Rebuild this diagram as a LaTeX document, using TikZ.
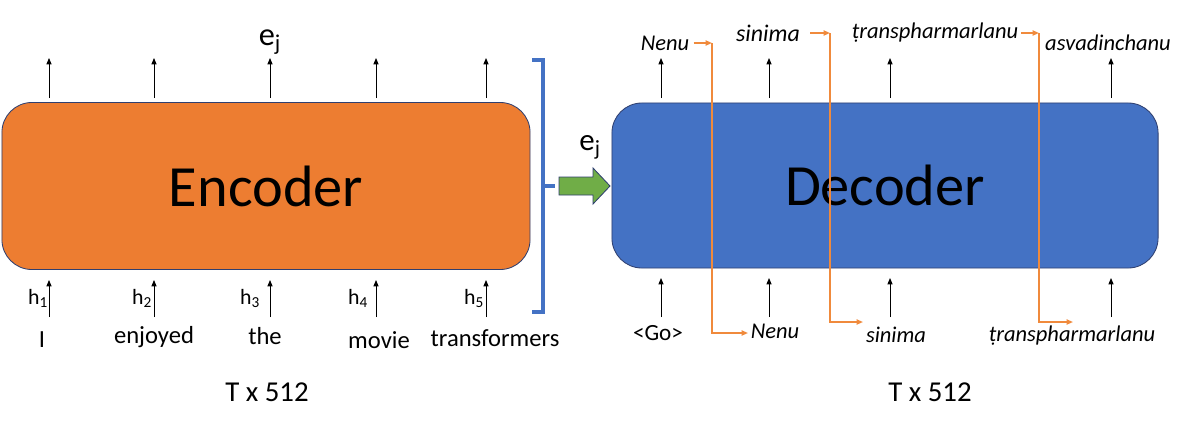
\documentclass[tikz,border=0pt]{standalone}
\usepackage{fontspec}
\setmainfont{Carlito}
\usetikzlibrary{arrows.meta}

\definecolor{encorange}{HTML}{ED7D31}
\definecolor{decblue}{HTML}{4472C4}
\definecolor{boxline}{HTML}{2F3F6F}
\definecolor{passgreen}{HTML}{70AD47}
\definecolor{copyorange}{HTML}{F08A3C}

\begin{document}
\begin{tikzpicture}[x=0.025cm,y=-0.025cm,
   block/.style={draw=boxline,line width=0.6pt,rounded corners=0.75cm,
      font=\fontsize{41.5pt}{48pt}\selectfont},
   up/.style={-{Triangle[length=4.5pt,width=3.6pt]},line width=0.6pt},
   copyarrow/.style={-{Triangle[length=4.5pt,width=3.6pt]},draw=copyorange,line width=1.1pt},
   word/.style={inner sep=1pt,font=\fontsize{17.5pt}{20pt}\selectfont},
   target/.style={inner sep=1pt,font=\fontsize{16pt}{19pt}\selectfont\itshape},
   hlabel/.style={inner sep=0pt,font=\fontsize{15.5pt}{18pt}\selectfont},
   size/.style={font=\fontsize{20.5pt}{24pt}\selectfont},
   bracket/.style={draw=decblue,line width=2.8pt}]

\useasboundingbox (0,0) rectangle (1200,428);

% encoder and decoder blocks
\node (enc) [block,fill=encorange,minimum width=13.2cm,minimum height=4.175cm] at (266,186) {Encoder};
\node (dec) [block,fill=decblue,minimum width=13.65cm,minimum height=4.125cm] at (885,185.5) {Decoder};

% encoder inputs and outputs
\node (ej) [inner sep=0pt,font=\fontsize{23pt}{26pt}\selectfont] at (270,42) {e\textsubscript{j}};
\foreach \x/\h/\w/\wx/\wy [count=\i] in {49/38/I/42/340,154/142/enjoyed/154/337,270/250/the/265/336,376/358/movie/379/340,486/474/transformers/495/338} {
  \coordinate (eout\i) at (\x,98);
  \coordinate (etop\i) at (\x,58);
  \draw[up] (eout\i) -- (etop\i);
  \coordinate (ein\i) at (\x,317);
  \coordinate (ebot\i) at (\x,280);
  \draw[up] (ein\i) -- (ebot\i);
  \node (h\i) [hlabel] at (\h,298) {h\textsubscript{\i}};
  \node (w\i) [word] at (\wx,\wy) {\w};
}

% context passed to the decoder
\draw[bracket] (532,60) -- (543,60) -- (543,312) -- (532,312);
\draw[bracket] (543,186) -- (555,186);
\node (ctx) [inner sep=0pt,font=\fontsize{22pt}{26pt}\selectfont] at (590,147) {e\textsubscript{j}};
\draw[draw=boxline,line width=0.6pt,fill=passgreen]
   (559,177) -- (593,177) -- (593,168) -- (610,186) -- (593,204) -- (593,195) -- (559,195) -- cycle;

% decoder inputs and outputs
\foreach \x [count=\i] in {661,769,890,1111} {
  \coordinate (dout\i) at (\x,98);
  \coordinate (dtop\i) at (\x,58);
  \draw[up] (dout\i) -- (dtop\i);
  \coordinate (din\i) at (\x,317);
  \coordinate (dbot\i) at (\x,278);
  \draw[up] (din\i) -- (dbot\i);
}
\node (nenuT) [target] at (665,43) {Nenu};
\node (sinimaT) [target,font=\fontsize{17pt}{20pt}\selectfont\itshape] at (768,33) {sinima};
\node (tranT) [target] at (935,33) {ṭranspharmarlanu};
\node (asvT) [target] at (1108,43) {asvadinchanu};

\node (go) [word,font=\fontsize{16.5pt}{19pt}\selectfont] at (658,333) {<Go>};
\node (nenuB) [target] at (775,331) {Nenu};
\node (sinimaB) [target] at (896,335) {sinima};
\node (tranB) [target] at (1072,336) {ṭranspharmarlanu};

% previous output fed back as next input
\coordinate (k1) at (712,43);
\coordinate (k2) at (830,33);
\coordinate (k3) at (1039,33);
\coordinate (n1) at (748,333);
\coordinate (n2) at (863,322);
\coordinate (n3) at (1073,322);
\draw[copyarrow,shorten <=2pt] (nenuT.east) -- (k1);
\draw[copyarrow] (k1) |- (n1);
\draw[copyarrow,shorten <=6pt] (sinimaT.east) -- (k2);
\draw[copyarrow] (k2) |- (n2);
\draw[copyarrow,shorten <=1pt] (tranT.east) -- (k3);
\draw[copyarrow] (k3) |- (n3);

% sizes
\node (encsize) [size] at (267,392) {T x 512};
\node (decsize) [size] at (930,392) {T x 512};

\end{tikzpicture}
\end{document}
